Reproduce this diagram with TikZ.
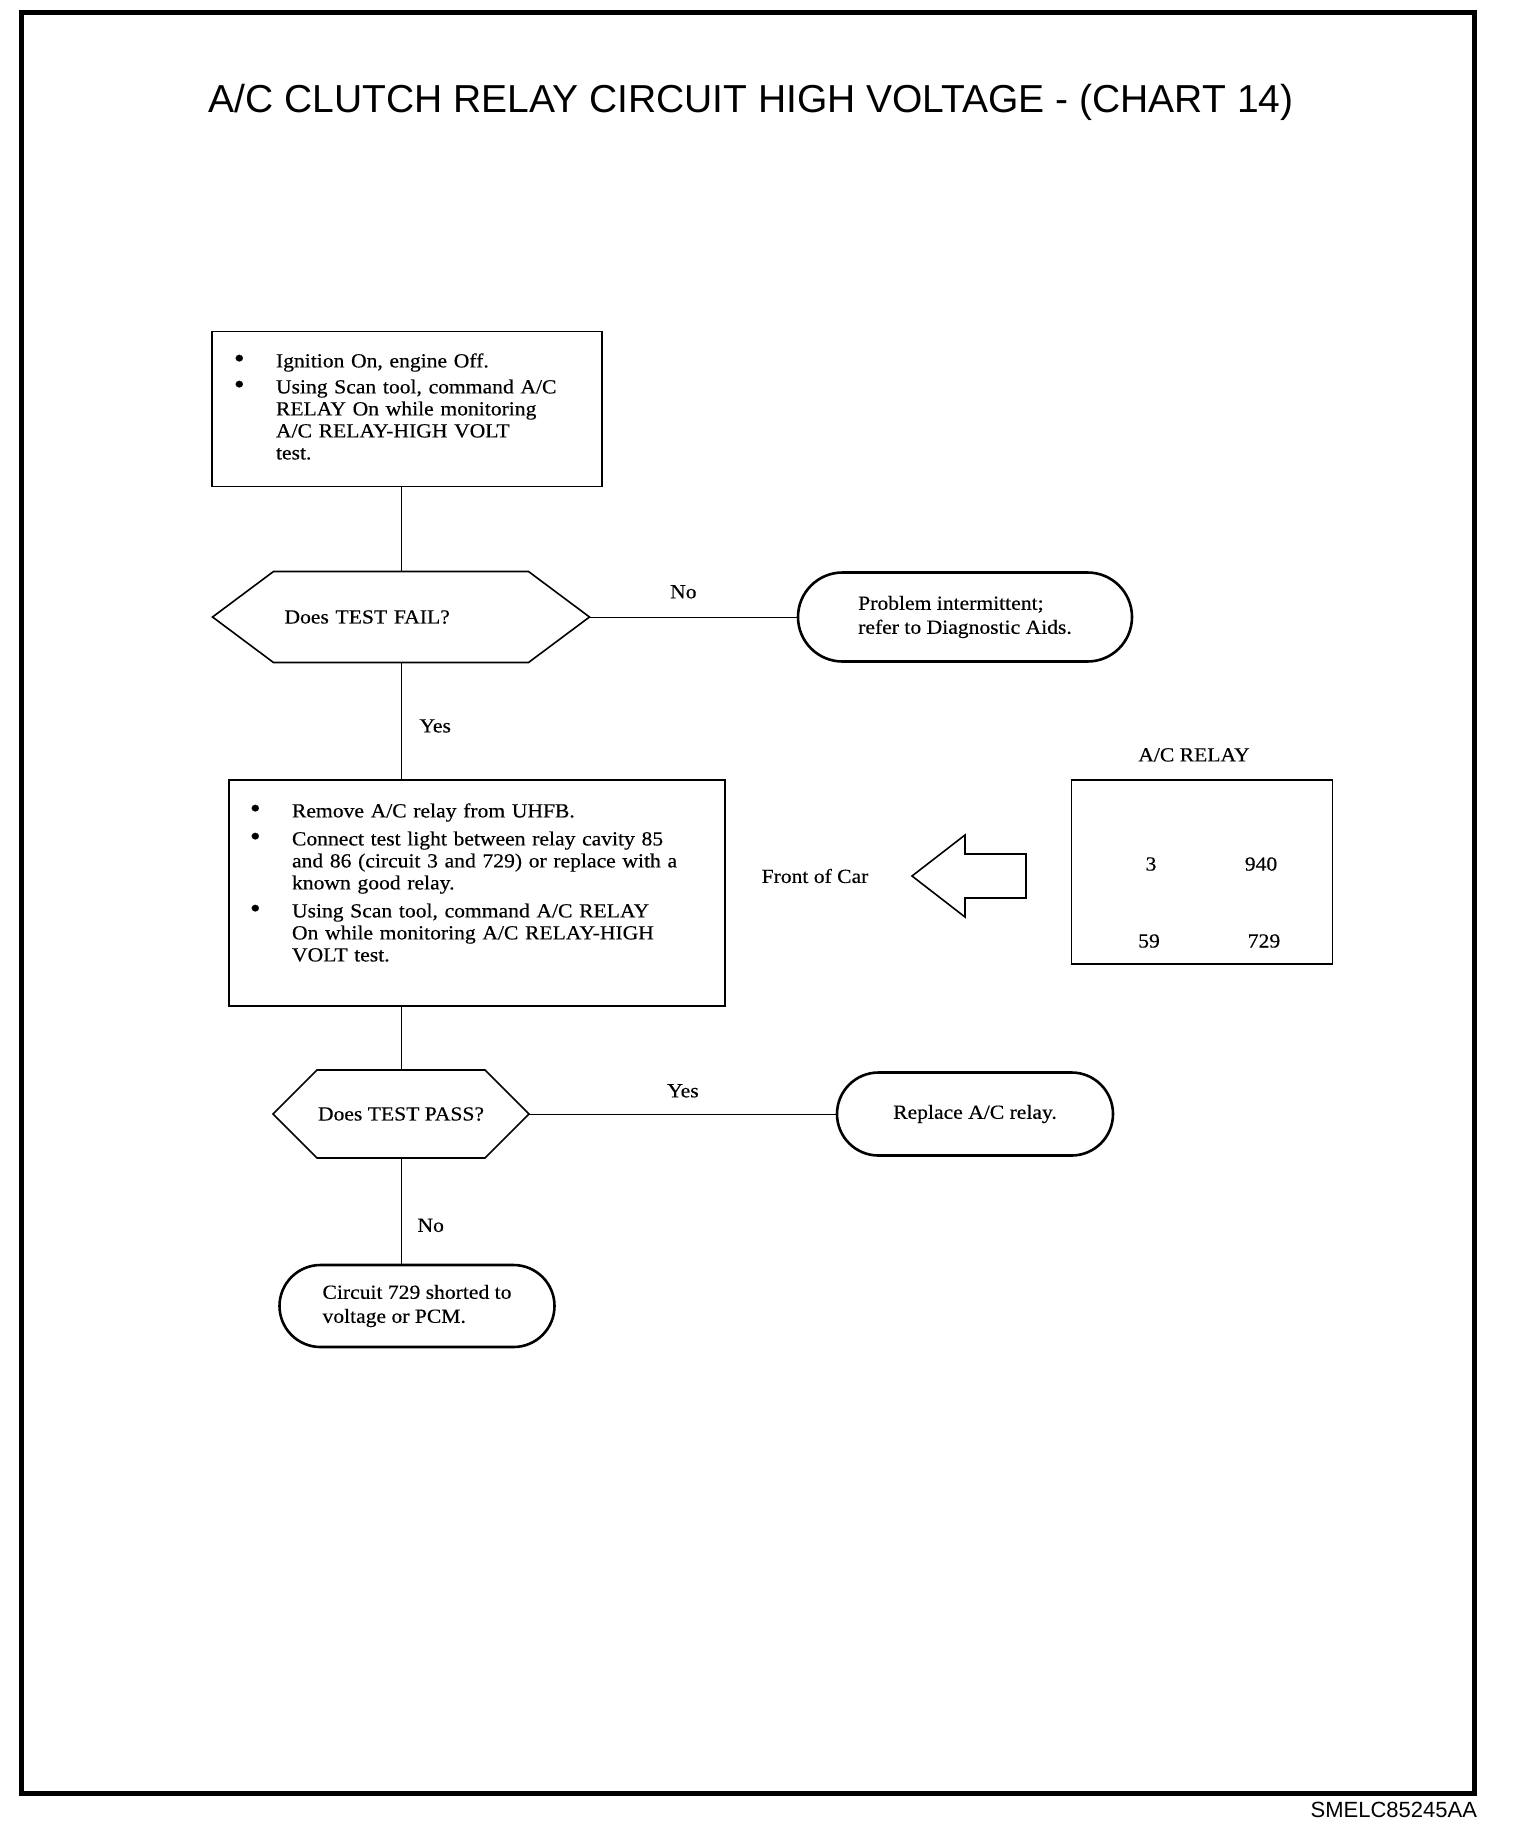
\documentclass[tikz,border=0pt]{standalone}
\usepackage{fontspec}
\setmainfont{Liberation Serif}[FakeStretch=1.08, FakeBold=0.4]
\newfontfamily\chartsans{Liberation Sans}
\usetikzlibrary{calc, positioning, shapes.misc}
\newcommand{\bul}{{\fontsize{14}{11}\selectfont\textbullet}}

\begin{document}
\begin{tikzpicture}[x=0.5pt,y=-0.5pt,
  stepbox/.style={draw, line width=0.8pt, rectangle, align=left, inner ysep=0pt, outer sep=0pt, font=\fontsize{10}{11}\selectfont},
  decision/.style={rectangle, inner sep=0pt, outer sep=0pt, font=\fontsize{10}{12}\selectfont},
  hexline/.style={line width=0.8pt, line join=miter},
  endbox/.style={draw, line width=1.3pt, rounded rectangle, align=left, inner sep=0pt, outer sep=0pt, font=\fontsize{10}{12}\selectfont},
  link/.style={line width=0.5pt},
  lbl/.style={inner sep=0pt, font=\fontsize{10}{12}\selectfont}]
\useasboundingbox (0,0) rectangle (1520,1836);
\draw[line width=2.5pt] (21,12) rectangle (1474,1793);
\node[font=\chartsans\fontsize{19.5}{24}\selectfont] (title) at (751,102) {A/C CLUTCH RELAY CIRCUIT HIGH VOLTAGE - (CHART 14)};
\node[stepbox, minimum height=77.5pt, text width=173pt, inner xsep=11pt] (box1) at (407,409) {%
\begin{tabular}{@{}p{21pt}@{}l@{}}
\bul & Ignition On, engine Off.\\[2pt]
\bul & Using Scan tool, command A/C\\
 & RELAY On while monitoring\\
 & A/C RELAY-HIGH VOLT\\
 & test.
\end{tabular}};
\node[decision, minimum height=45.5pt, text width=116.5pt, inner xsep=36pt, align=left] (hexfail) at (401,617) {Does TEST FAIL?};
\draw[hexline] (hexfail.west) -- ([xshift=30.5pt]hexfail.north west) -- ([xshift=-30.5pt]hexfail.north east) -- (hexfail.east) -- ([xshift=-30.5pt]hexfail.south east) -- ([xshift=30.5pt]hexfail.south west) -- cycle;
\node[endbox, minimum width=167pt, minimum height=44.5pt] (endintermit) at (965,617) {Problem intermittent;\\refer to Diagnostic Aids.};
\node[stepbox, minimum height=113pt, text width=227pt, inner xsep=10.5pt] (box2) at (477,893) {%
\begin{tabular}{@{}p{21pt}@{}l@{}}
\bul & Remove A/C relay from UHFB.\\[3pt]
\bul & Connect test light between relay cavity 85\\
 & and 86 (circuit 3 and 729) or replace with a\\
 & known good relay.\\[3pt]
\bul & Using Scan tool, command A/C RELAY\\
 & On while monitoring A/C RELAY-HIGH\\
 & VOLT test.\\[8pt]
\end{tabular}};
\node[lbl] (frontlbl) at (815,876) {Front of Car};
\coordinate (arrowtip) at (912,876);
\draw[hexline] (arrowtip) -- ++(53,-41) -- ++(0,19) -- ++(61,0) -- ++(0,44) -- ++(-61,0) -- ++(0,19) -- cycle;
\node[draw, line width=0.8pt, minimum width=130.5pt, minimum height=92pt, outer sep=0pt] (relaybox) at (1202,872) {};
\node[lbl, above=9pt of relaybox, xshift=-4pt] (relaylbl) {A/C RELAY};
\foreach \pinx/\piny/\pinnum in {1151/864/3, 1261/864/940, 1149/941/59, 1264/941/729}
  \node[lbl] (pin\pinnum) at (\pinx,\piny) {\pinnum};
\node[decision, minimum width=128pt, minimum height=44pt] (hexpass) at (401,1114) {Does TEST PASS?};
\draw[hexline] (hexpass.west) -- ([xshift=22pt]hexpass.north west) -- ([xshift=-22pt]hexpass.north east) -- (hexpass.east) -- ([xshift=-22pt]hexpass.south east) -- ([xshift=22pt]hexpass.south west) -- cycle;
\node[endbox, minimum width=138pt, minimum height=41.5pt] (endreplace) at (975,1114) {Replace A/C relay.};
\node[endbox, minimum width=137.5pt, minimum height=41pt] (endshort) at (417,1306) {Circuit 729 shorted to\\voltage or PCM.};
\draw[link] (hexfail.north |- box1.south) -- (hexfail.north);
\draw[link] (hexfail.east) -- node[lbl, pos=0.45, above=9pt] (nofail) {No} (endintermit.west);
\draw[link] (hexfail.south) -- node[lbl, pos=0.54, right=9pt] (yesfail) {Yes} (hexfail.south |- box2.north);
\draw[link] (box2.south -| hexpass.north) -- (hexpass.north);
\draw[link] (hexpass.east) -- node[lbl, pos=0.5, above=8pt] (yespass) {Yes} (endreplace.west);
\draw[link] (hexpass.south) -- node[lbl, pos=0.63, right=8pt] (nopass) {No} (hexpass.south |- endshort.north);
\node[font=\chartsans\fontsize{11}{13}\selectfont, anchor=east] (figid) at (1484,1810) {SMELC85245AA};
\end{tikzpicture}
\end{document}
